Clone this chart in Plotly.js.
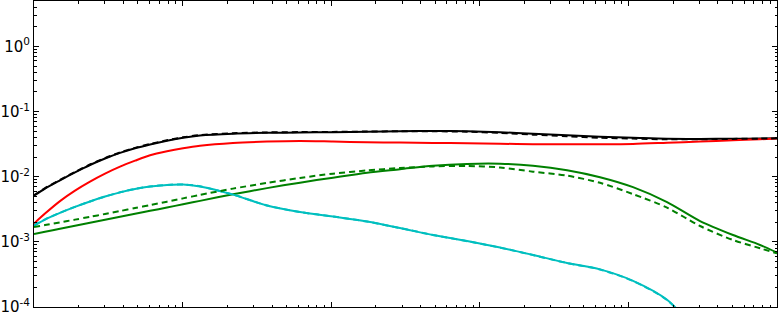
<!DOCTYPE html>
<html>
<head>
<meta charset="utf-8">
<script src="https://cdn.plot.ly/plotly-3.0.1.min.js"></script>
<style>
html,body{margin:0;padding:0;background:#fff;}
#chart{width:778px;height:313px;}
</style>
</head>
<body>
<div id="chart"></div>
<script>
// shared x grid (log axis, 1 .. 1e5)
const xGrid = [1, 1.186, 1.496, 1.888, 2.382, 3.006, 3.793, 4.786, 6.039, 7.852, 10.07, 13.09, 21.83, 36.98, 61.66, 102.8, 174.2, 290.4, 484.2, 820.4, 1368, 2280, 3864, 6442, 10740, 18200, 30340, 50580, 76910, 100000];

const blackSolid = [5.11e-3, 6.55e-3, 8.77e-3, 1.163e-2, 1.511e-2, 1.901e-2, 2.316e-2, 2.734e-2, 3.126e-2, 3.574e-2, 3.974e-2, 4.30e-2, 4.58e-2, 4.71e-2, 4.77e-2, 4.81e-2, 4.89e-2, 4.98e-2, 5.02e-2, 4.98e-2, 4.81e-2, 4.56e-2, 4.33e-2, 4.10e-2, 3.96e-2, 3.82e-2, 3.80e-2, 3.82e-2, 3.85e-2, 3.89e-2];
const blackDashed = [5.2e-3, 6.65e-3, 8.9e-3, 1.18e-2, 1.535e-2, 1.93e-2, 2.35e-2, 2.77e-2, 3.17e-2, 3.62e-2, 4.02e-2, 4.35e-2, 4.65e-2, 4.78e-2, 4.84e-2, 4.87e-2, 4.93e-2, 4.98e-2, 4.98e-2, 4.9e-2, 4.7e-2, 4.42e-2, 4.18e-2, 3.96e-2, 3.84e-2, 3.75e-2, 3.76e-2, 3.80e-2, 3.84e-2, 3.89e-2];
const redSolid = [1.905e-3, 2.710e-3, 4.212e-3, 6.10e-3, 8.38e-3, 1.112e-2, 1.423e-2, 1.759e-2, 2.136e-2, 2.459e-2, 2.734e-2, 2.986e-2, 3.296e-2, 3.463e-2, 3.537e-2, 3.463e-2, 3.379e-2, 3.343e-2, 3.296e-2, 3.262e-2, 3.205e-2, 3.149e-2, 3.149e-2, 3.149e-2, 3.182e-2, 3.319e-2, 3.463e-2, 3.626e-2, 3.756e-2, 3.85e-2];
const cyanSolid = [1.774e-3, 2.193e-3, 2.778e-3, 3.432e-3, 4.153e-3, 4.94e-3, 5.727e-3, 6.457e-3, 7.053e-3, 7.46e-3, 7.565e-3, 7.08e-3, 5.30e-3, 3.593e-3, 2.857e-3, 2.438e-3, 2.043e-3, 1.624e-3, 1.269e-3, 1.027e-3, 8.16e-4, 6.26e-4, 4.72e-4, 3.756e-4, 2.503e-4, 1.28e-4, 3.72e-5];
const cyanDashed = [1.78e-3, 2.20e-3, 2.79e-3, 3.44e-3, 4.16e-3, 4.95e-3, 5.74e-3, 6.47e-3, 7.06e-3, 7.47e-3, 7.57e-3, 7.10e-3, 5.31e-3, 3.60e-3, 2.86e-3, 2.44e-3, 2.04e-3, 1.62e-3, 1.27e-3, 1.02e-3, 8.12e-4, 6.24e-4, 4.70e-4, 3.74e-4, 2.49e-4, 1.27e-4, 3.7e-5];
const greenSolid = [1.315e-3, 1.421e-3, 1.579e-3, 1.755e-3, 1.952e-3, 2.170e-3, 2.412e-3, 2.681e-3, 2.981e-3, 3.360e-3, 3.762e-3, 4.242e-3, 5.355e-3, 6.666e-3, 8.09e-3, 9.65e-3, 1.151e-2, 1.302e-2, 1.474e-2, 1.571e-2, 1.582e-2, 1.474e-2, 1.258e-2, 9.82e-3, 6.90e-3, 4.066e-3, 2.080e-3, 1.269e-3, 8.92e-4, 6.80e-4];
const greenDashed = [1.682e-3, 1.806e-3, 1.986e-3, 2.185e-3, 2.412e-3, 2.671e-3, 2.960e-3, 3.291e-3, 3.658e-3, 4.124e-3, 4.633e-3, 5.24e-3, 6.55e-3, 8.00e-3, 9.55e-3, 1.112e-2, 1.245e-2, 1.359e-2, 1.438e-2, 1.459e-2, 1.383e-2, 1.193e-2, 1.036e-2, 8.04e-3, 5.39e-3, 3.348e-3, 1.743e-3, 1.063e-3, 7.93e-4, 6.65e-4];

const yTickVals = [1e-4, 1e-3, 1e-2, 1e-1, 1];
const yTickText = ['10<sup>-4</sup>', '10<sup>-3</sup>', '10<sup>-2</sup>', '10<sup>-1</sup>', '10<sup>0</sup>'];

const W = 2;
const DASH = '6px,4px';
function tr(y, color, dash) {
  return {x: xGrid, y: y, type: 'scatter', mode: 'lines',
          line: {color: color, width: W, dash: dash || 'solid', shape: 'spline', smoothing: 0.8},
          hoverinfo: 'skip', showlegend: false};
}
const data = [
  tr(blackSolid, '#000000'),
  tr(redSolid, '#ff0000'),
  tr(greenSolid, '#008000'),
  tr(cyanSolid, '#00bfbf'),
  tr(cyanDashed, '#00bfbf', DASH),
  tr(greenDashed, '#008000', DASH),
  tr(blackDashed, '#000000', DASH)
];

const axisCommon = {
  showgrid: false, zeroline: false,
  showline: true, linecolor: '#000', linewidth: 1, mirror: 'allticks',
  ticks: 'inside', ticklen: 5, tickwidth: 1, tickcolor: '#000',
  minor: {ticks: 'inside', ticklen: 2.5, tickwidth: 1, tickcolor: '#000', dtick: 'D1', showgrid: false}
};

const layout = {
  width: 778, height: 313,
  margin: {l: 34, r: 1, t: 1, b: 6, pad: 0},
  paper_bgcolor: '#fff', plot_bgcolor: '#fff',
  font: {family: 'DejaVu Sans', size: 15, color: '#000'},
  xaxis: Object.assign({}, axisCommon, {
    type: 'log', range: [0, 5], tickmode: 'linear', tick0: 0, dtick: 1,
    showticklabels: false
  }),
  yaxis: Object.assign({}, axisCommon, {
    type: 'log', range: [-4.003, Math.log10(5)], tickmode: 'array',
    tickvals: yTickVals, ticktext: yTickText, ticklabelstandoff: 0,
    ticklabeloverflow: 'allow'
  })
};

Plotly.newPlot('chart', data, layout, {staticPlot: true, displayModeBar: false});
</script>
</body>
</html>
